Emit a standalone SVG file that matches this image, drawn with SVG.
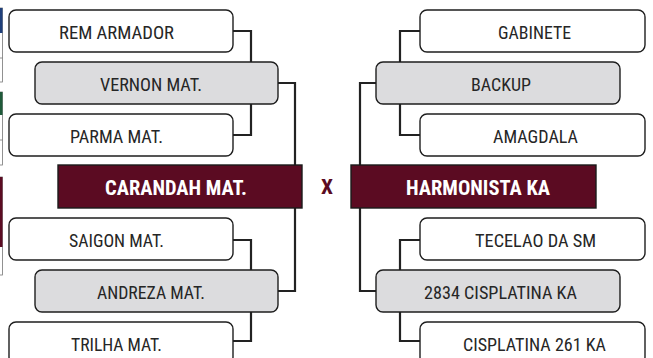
<svg xmlns="http://www.w3.org/2000/svg" width="653" height="358" viewBox="0 0 653 358">
<style>
.bx{fill:#ffffff;stroke:#1e1e1e;stroke-width:1.4}
.gy{fill:#dcdcde;stroke:#1e1e1e;stroke-width:1.4}
.mr{fill:#5b0b22;stroke:#1a1a1a;stroke-width:1.4}
.t{font-family:"Liberation Sans Narrow","Roboto Condensed","DejaVu Sans Condensed","Liberation Sans",sans-serif;font-size:19px;fill:#262626;text-anchor:middle}
.tb{font-family:"Liberation Sans Narrow","Roboto Condensed","DejaVu Sans Condensed","Liberation Sans",sans-serif;font-size:21px;font-weight:bold;fill:#ffffff;text-anchor:middle}
.ln{fill:none;stroke:#222222;stroke-width:2.2}
</style>
<rect width="653" height="358" fill="#ffffff"/>
<g id="edge-fragments">
<rect x="-5" y="8" width="7.5" height="74" fill="#ffffff" stroke="#777" stroke-width="0.8"/>
<rect x="-5" y="8" width="7.5" height="25" fill="#1f3f7a"/>
<line x1="-5" y1="58" x2="2.5" y2="58" stroke="#777" stroke-width="0.8"/>
<rect x="-5" y="92" width="7.5" height="73" fill="#ffffff" stroke="#777" stroke-width="0.8"/>
<rect x="-5" y="92" width="7.5" height="23" fill="#1f5a3a"/>
<line x1="-5" y1="140" x2="2.5" y2="140" stroke="#777" stroke-width="0.8"/>
<rect x="-5" y="177" width="7.5" height="98" fill="#ffffff" stroke="#777" stroke-width="0.8"/>
<rect x="-5" y="177" width="7.5" height="70" fill="#5b0b22"/>
</g>
<g id="connectors">
<path class="ln" d="M233,31 H251 V135 H233"/>
<path class="ln" d="M278,83 H295 V291 H278"/>
<path class="ln" d="M233,240 H251 V341 H233"/>
<path class="ln" d="M420,31 H400 V135 H420"/>
<path class="ln" d="M376,83 H360 V291 H376"/>
<path class="ln" d="M420,240 H400 V341 H420"/>
</g>
<g id="n-rem"><rect class="bx" x="9" y="10" width="224" height="42" rx="7"/><text class="t" x="116.5" y="38.5" textLength="115" lengthAdjust="spacingAndGlyphs">REM ARMADOR</text></g>
<g id="n-vernon"><rect class="gy" x="35" y="62" width="243" height="42" rx="7"/><text class="t" x="151" y="90.5" textLength="102" lengthAdjust="spacingAndGlyphs">VERNON MAT.</text></g>
<g id="n-parma"><rect class="bx" x="9" y="114" width="224" height="42" rx="7"/><text class="t" x="116.5" y="142.5" textLength="93" lengthAdjust="spacingAndGlyphs">PARMA MAT.</text></g>
<g id="n-carandah"><rect class="mr" x="58" y="165" width="244" height="43"/><text class="tb" x="176" y="195" textLength="142" lengthAdjust="spacingAndGlyphs">CARANDAH MAT.</text></g>
<g id="n-saigon"><rect class="bx" x="9" y="218" width="224" height="42" rx="7"/><text class="t" x="116.5" y="246.5" textLength="95" lengthAdjust="spacingAndGlyphs">SAIGON MAT.</text></g>
<g id="n-andreza"><rect class="gy" x="35" y="270" width="243" height="42" rx="7"/><text class="t" x="151" y="298.5" textLength="108" lengthAdjust="spacingAndGlyphs">ANDREZA MAT.</text></g>
<g id="n-trilha"><rect class="bx" x="9" y="322" width="224" height="42" rx="7"/><text class="t" x="116.5" y="350.5" textLength="91" lengthAdjust="spacingAndGlyphs">TRILHA MAT.</text></g>
<g id="vs"><text x="327" y="194" font-family="Liberation Sans Narrow,Roboto Condensed,Liberation Sans,sans-serif" font-size="20" font-weight="bold" fill="#5b0b22" text-anchor="middle" textLength="12" lengthAdjust="spacingAndGlyphs">X</text></g>
<g id="n-gabinete"><rect class="bx" x="420" y="10" width="225" height="42" rx="7"/><text class="t" x="534.5" y="38.5" textLength="73" lengthAdjust="spacingAndGlyphs">GABINETE</text></g>
<g id="n-backup"><rect class="gy" x="376" y="62" width="244" height="42" rx="7"/><text class="t" x="501" y="90.5" textLength="60" lengthAdjust="spacingAndGlyphs">BACKUP</text></g>
<g id="n-amagdala"><rect class="bx" x="420" y="114" width="225" height="42" rx="7"/><text class="t" x="535.5" y="142.5" textLength="85" lengthAdjust="spacingAndGlyphs">AMAGDALA</text></g>
<g id="n-harmonista"><rect class="mr" x="351" y="165" width="245" height="43"/><text class="tb" x="478" y="195" textLength="144" lengthAdjust="spacingAndGlyphs">HARMONISTA KA</text></g>
<g id="n-tecelao"><rect class="bx" x="420" y="218" width="225" height="42" rx="7"/><text class="t" x="535.5" y="246.5" textLength="121" lengthAdjust="spacingAndGlyphs">TECELAO DA SM</text></g>
<g id="n-2834"><rect class="gy" x="376" y="270" width="244" height="42" rx="7"/><text class="t" x="500.5" y="298.5" textLength="153" lengthAdjust="spacingAndGlyphs">2834 CISPLATINA KA</text></g>
<g id="n-cisplatina261"><rect class="bx" x="420" y="322" width="225" height="42" rx="7"/><text class="t" x="534.5" y="350.5" textLength="143" lengthAdjust="spacingAndGlyphs">CISPLATINA 261 KA</text></g>
</svg>
